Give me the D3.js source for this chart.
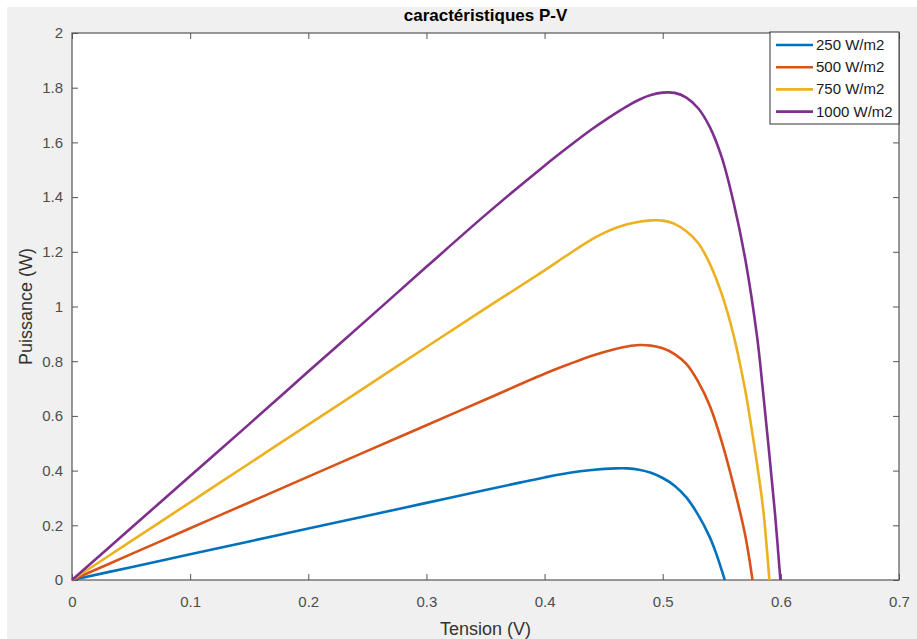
<!DOCTYPE html>
<html>
<head>
<meta charset="utf-8">
<script src="https://cdn.jsdelivr.net/npm/d3@7"></script>
<style>
    body { margin: 0; background: #fff; }
    text { font-family: "Liberation Sans", Arial, sans-serif; }
    .tick-label { font-size: 15px; fill: #4d4d4d; }
    .axis-label { font-size: 18px; fill: #333; }
    .legend-text { font-size: 15px; fill: #1a1a1a; }
</style>
</head>
<body>
<div id="pv-chart"></div>
<script>

// Tension (V) / Puissance (W), one array per irradiance
var v250 = [0, 0.05, 0.1, 0.15, 0.2, 0.25, 0.3, 0.35, 0.38, 0.40, 0.42, 0.44, 0.46, 0.47, 0.48, 0.49, 0.50, 0.51, 0.52, 0.53, 0.54, 0.545, 0.55, 0.5525];
var p250 = [0, 0.047, 0.094, 0.141, 0.188, 0.235, 0.282, 0.329, 0.357, 0.375, 0.391, 0.402, 0.408, 0.408, 0.403, 0.392, 0.373, 0.345, 0.302, 0.238, 0.155, 0.100, 0.035, 0];

var v500 = [0, 0.05, 0.1, 0.15, 0.2, 0.25, 0.3, 0.35, 0.40, 0.42, 0.44, 0.46, 0.47, 0.48, 0.49, 0.50, 0.51, 0.52, 0.53, 0.54, 0.55, 0.56, 0.57, 0.576];
var p500 = [0, 0.0945, 0.189, 0.2835, 0.378, 0.472, 0.566, 0.66, 0.754, 0.788, 0.820, 0.845, 0.854, 0.859, 0.857, 0.847, 0.826, 0.790, 0.725, 0.635, 0.505, 0.345, 0.160, 0];

var v750 = [0, 0.05, 0.1, 0.15, 0.2, 0.25, 0.3, 0.35, 0.40, 0.42, 0.44, 0.45, 0.46, 0.47, 0.48, 0.49, 0.50, 0.51, 0.52, 0.53, 0.54, 0.55, 0.56, 0.57, 0.575, 0.58, 0.585, 0.5903];
var p750 = [0, 0.142, 0.284, 0.426, 0.568, 0.71, 0.852, 0.993, 1.132, 1.190, 1.245, 1.268, 1.287, 1.301, 1.310, 1.315, 1.314, 1.302, 1.275, 1.232, 1.155, 1.045, 0.895, 0.690, 0.560, 0.420, 0.260, 0];

var v1000 = [0, 0.05, 0.1, 0.15, 0.2, 0.25, 0.3, 0.35, 0.40, 0.42, 0.44, 0.46, 0.47, 0.48, 0.49, 0.50, 0.51, 0.52, 0.53, 0.54, 0.55, 0.56, 0.57, 0.58, 0.585, 0.59, 0.595, 0.5996];
var p1000 = [0, 0.19, 0.38, 0.57, 0.762, 0.953, 1.145, 1.335, 1.515, 1.583, 1.648, 1.706, 1.733, 1.756, 1.773, 1.782, 1.781, 1.764, 1.725, 1.655, 1.545, 1.38, 1.17, 0.885, 0.685, 0.47, 0.245, 0];

var seriesNames = ["250 W/m2", "500 W/m2", "750 W/m2", "1000 W/m2"];
var seriesColors = ["#0072BD", "#D95319", "#EDB120", "#7E2F8E"];

var xTicks = [0, 0.1, 0.2, 0.3, 0.4, 0.5, 0.6, 0.7];
var yTicks = [0, 0.2, 0.4, 0.6, 0.8, 1, 1.2, 1.4, 1.6, 1.8, 2];

var chartTitle = "caractéristiques P-V";
var xLabel = "Tension (V)";
var yLabel = "Puissance (W)";

function zipSeries(vs, ps) {
    return vs.map(function(v, i) { return {v: v, p: ps[i]}; });
}

var series = [
    zipSeries(v250, p250),
    zipSeries(v500, p500),
    zipSeries(v750, p750),
    zipSeries(v1000, p1000)
];

var totalWidth = 917, totalHeight = 639;
var margin = {top: 33, right: 18, bottom: 59, left: 72};
var width = totalWidth - margin.left - margin.right,
    height = totalHeight - margin.top - margin.bottom;

var svg = d3.select("#pv-chart").append("svg")
    .attr("width", totalWidth)
    .attr("height", totalHeight);

// MATLAB figure grey
svg.append("rect")
    .attr("x", 7)
    .attr("y", 7)
    .attr("width", totalWidth - 7)
    .attr("height", totalHeight - 7)
    .attr("fill", "#f0f0f0");

var g = svg.append("g")
    .attr("transform", "translate(" + margin.left + "," + margin.top + ")");

g.append("rect")
    .attr("width", width)
    .attr("height", height)
    .attr("fill", "#fff");

// Scales
var x = d3.scaleLinear().domain([0, 0.7]).range([0, width]);
var y = d3.scaleLinear().domain([0, 2]).range([height, 0]);

// Axes: ticks point inward, on all four sides
var tickLen = 6;
var axisColor = "#555";

function styleAxis(sel) {
    sel.select(".domain").remove();
    sel.selectAll(".tick line").attr("stroke", axisColor);
    sel.selectAll(".tick text").attr("class", "tick-label");
}

g.append("g")
    .attr("transform", "translate(0," + height + ")")
    .call(d3.axisBottom(x).tickValues(xTicks).tickSize(-tickLen).tickPadding(16).tickFormat(d3.format("")))
    .call(styleAxis);

g.append("g")
    .call(d3.axisTop(x).tickValues(xTicks).tickSize(-tickLen).tickFormat(""))
    .call(styleAxis);

g.append("g")
    .call(d3.axisLeft(y).tickValues(yTicks).tickSize(-tickLen).tickPadding(9).tickFormat(d3.format("")))
    .call(styleAxis);

g.append("g")
    .attr("transform", "translate(" + width + ",0)")
    .call(d3.axisRight(y).tickValues(yTicks).tickSize(-tickLen).tickFormat(""))
    .call(styleAxis);

// Box
g.append("rect")
    .attr("width", width)
    .attr("height", height)
    .attr("fill", "none")
    .attr("stroke", axisColor)
    .attr("stroke-width", 1.2);

// Curves
var line = d3.line()
    .curve(d3.curveCatmullRom.alpha(0.5))
    .x(function(d) { return x(d.v); })
    .y(function(d) { return y(d.p); });

g.selectAll(".pv-line")
    .data(series)
    .enter()
    .append("path")
    .attr("class", "pv-line")
    .attr("d", line)
    .attr("fill", "none")
    .attr("stroke", function(d, i) { return seriesColors[i]; })
    .attr("stroke-width", 2.6)
    .attr("stroke-linejoin", "round");

// Title and labels
svg.append("text")
    .attr("x", margin.left + width / 2)
    .attr("y", 21)
    .attr("text-anchor", "middle")
    .style("font-size", "17px")
    .style("font-weight", "bold")
    .attr("fill", "#000")
    .text(chartTitle);

svg.append("text")
    .attr("class", "axis-label")
    .attr("x", margin.left + width / 2)
    .attr("y", 635)
    .attr("text-anchor", "middle")
    .text(xLabel);

svg.append("text")
    .attr("class", "axis-label")
    .attr("transform", "translate(32," + (margin.top + height / 2) + ") rotate(-90)")
    .attr("text-anchor", "middle")
    .text(yLabel);

// Legend (top right corner of the axes)
var legend = g.append("g")
    .attr("transform", "translate(" + (width - 129) + ",-1)");

legend.append("rect")
    .attr("width", 129)
    .attr("height", 92)
    .attr("fill", "#fff")
    .attr("stroke", "#333")
    .attr("stroke-width", 1);

var legendRows = legend.selectAll(".legend-row")
    .data(seriesNames)
    .enter()
    .append("g")
    .attr("class", "legend-row")
    .attr("transform", function(d, i) { return "translate(0," + (13 + i * 22.2) + ")"; });

legendRows.append("line")
    .attr("x1", 6)
    .attr("x2", 43)
    .attr("stroke", function(d, i) { return seriesColors[i]; })
    .attr("stroke-width", 2.6);

legendRows.append("text")
    .attr("class", "legend-text")
    .attr("x", 46)
    .attr("y", 5)
    .text(function(d) { return d; });

</script>
</body>
</html>
